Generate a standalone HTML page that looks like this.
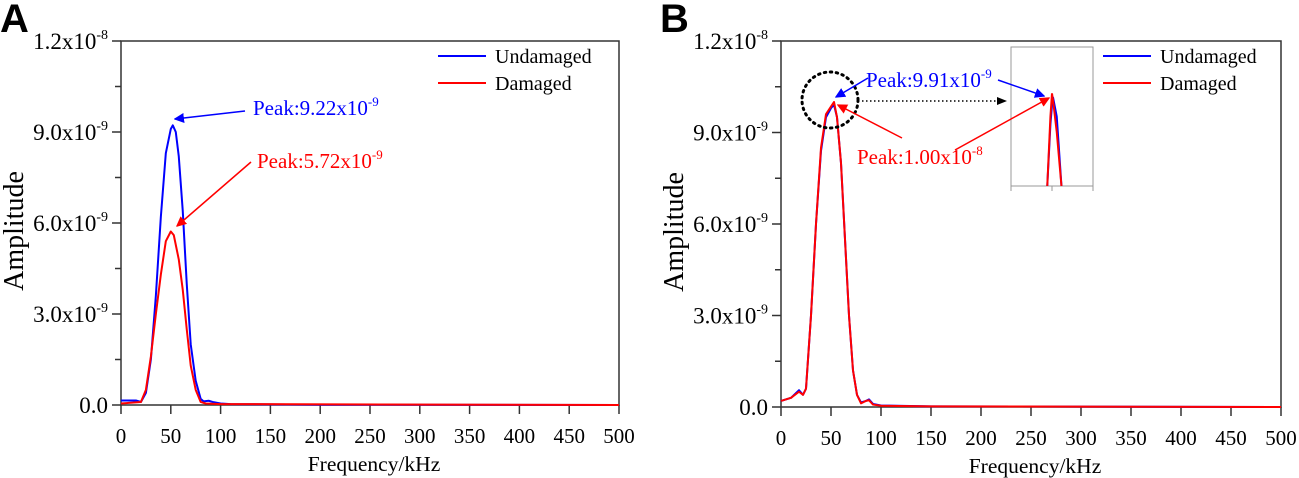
<!DOCTYPE html>
<html><head><meta charset="utf-8"><style>
body{margin:0;background:#fff}
svg{display:block;font-family:"Liberation Serif",serif}
</style></head><body>
<svg id="chart" width="1299" height="478" viewBox="0 0 1299 478" xmlns="http://www.w3.org/2000/svg">
<defs>
<marker id="ab" markerWidth="10" markerHeight="10" refX="9" refY="5" orient="auto" markerUnits="userSpaceOnUse"><path d="M0,0 L14,5 L0,10 Z" fill="#0000ff" transform="scale(0.75,1)"/></marker>
<marker id="ar" markerWidth="10" markerHeight="10" refX="9" refY="5" orient="auto" markerUnits="userSpaceOnUse"><path d="M0,0 L14,5 L0,10 Z" fill="#ff0000" transform="scale(0.75,1)"/></marker>
<marker id="ak" markerWidth="10" markerHeight="10" refX="9" refY="5" orient="auto" markerUnits="userSpaceOnUse"><path d="M0,1 L10,5 L0,9 Z" fill="#000"/></marker>
<clipPath id="insetClip"><rect x="1011" y="47" width="82" height="139"/></clipPath>
</defs>
<g id="gA"></g>
<g id="gB"></g>
</svg>
<script>
const xTicks = [0,50,100,150,200,250,300,350,400,450,500];
const yTickVals = [0,3,6,9,12];
const yTickLabels = ["0.0","3.0x10","6.0x10","9.0x10","1.2x10"];
const yTickExp = ["","-9","-9","-9","-8"];
const freqA = [0,15,20,25,30,35,40,45,50,52,55,58,62,66,70,75,80,83,88,92,100,110,150,200,500];
const undamagedA = [0.15,0.15,0.1,0.4,1.5,3.6,6.2,8.3,9.1,9.22,9.0,8.2,6.4,4.0,2.0,0.8,0.2,0.12,0.14,0.1,0.05,0.03,0.02,0.01,0];
const freqA2 = [0,20,25,30,35,40,45,50,53,58,62,66,70,75,80,85,100,500];
const damagedA = [0.05,0.1,0.5,1.6,3.0,4.3,5.4,5.72,5.6,4.8,3.8,2.5,1.3,0.5,0.1,0.05,0.03,0];
const freqB = [0,10,18,22,25,30,35,40,45,50,53,56,60,64,68,72,76,80,85,88,92,100,150,500];
const undamagedB = [0.2,0.3,0.55,0.4,0.6,3.0,6.0,8.4,9.5,9.8,9.91,9.5,8.0,5.5,3.0,1.2,0.4,0.15,0.2,0.25,0.1,0.05,0.02,0];
const damagedB = [0.2,0.3,0.5,0.4,0.6,3.0,6.0,8.5,9.6,9.85,10.0,9.5,8.0,5.5,3.0,1.2,0.4,0.12,0.2,0.22,0.08,0.04,0.02,0];
const insetFreq = [51.5,52.5,53,53.5,54.5,56];
const insetUndamaged = [8.8,9.6,9.85,9.91,9.7,8.8];
const insetDamaged = [8.8,9.7,10.0,9.85,9.5,8.8];

const NS="http://www.w3.org/2000/svg";
function el(p,tag,a,txt){const e=document.createElementNS(NS,tag);for(const k in a)e.setAttribute(k,a[k]);if(txt!==undefined)e.textContent=txt;p.appendChild(e);return e;}

function panel(g,x0,x1,y0,y1,letter,series,legX){
  const sx=v=>x0+(v/500)*(x1-x0), sy=v=>y0-(v/12)*(y0-y1);
  const lt=el(g,'text',{x:x0-121,y:32,'font-family':'Liberation Sans,sans-serif','font-weight':'bold','font-size':40},letter);
  
  
  const box=el(g,'rect',{x:x0,y:y1,width:x1-x0,height:y0-y1,fill:'none',stroke:'#333','stroke-width':1.5});
  
  
  xTicks.forEach(t=>{
    el(g,'line',{x1:sx(t),x2:sx(t),y1:y0,y2:y0+9,stroke:'#333','stroke-width':1.5});
    const tx=el(g,'text',{x:sx(t),y:y0+38,'text-anchor':'middle','font-size':21},t);
    
    
  });
  for(let v=1.5;v<12;v+=3) el(g,'line',{x1:x0-6,x2:x0,y1:sy(v),y2:sy(v),stroke:'#333','stroke-width':1.5});
  yTickVals.forEach((v,i)=>{
    el(g,'line',{x1:x0-9,x2:x0,y1:sy(v),y2:sy(v),stroke:'#333','stroke-width':1.5});
    const tx=el(g,'text',{x:x0-13,y:sy(v)+8,'text-anchor':'end','font-size':23});
    
    
    el(tx,'tspan',{},yTickLabels[i]);
    if(yTickExp[i]){el(tx,'tspan',{dy:-10,'font-size':14},yTickExp[i]);}
  });
  const xt=el(g,'text',{x:(x0+x1)/2+4,y:y0+66,'text-anchor':'middle','font-size':21.5},'Frequency/kHz');
  
  
  const yt=el(g,'text',{x:0,y:0,'text-anchor':'middle','font-size':28,transform:`translate(${x0-98},${(y0+y1)/2+8}) rotate(-90)`},'Amplitude');
  
  
  series.forEach(s=>{
    const p=el(g,'polyline',{points:s.f.map((f,i)=>sx(f)+','+sy(s.v[i])).join(' '),fill:'none',stroke:s.c,'stroke-width':2,'stroke-linejoin':'round'});
    
    
  });
  [['Undamaged','#0000ff',57],['Damaged','#ff0000',84]].forEach(([t,c,y])=>{
    el(g,'line',{x1:legX,x2:legX+48,y1:y-1,y2:y-1,stroke:c,'stroke-width':2});
    const lt2=el(g,'text',{x:legX+57,y:y+6,'font-size':20},t);
    
    
  });
  return {sx,sy};
}
const gA=document.getElementById('gA'), gB=document.getElementById('gB');
panel(gA,121,619,405,41,'A',[{f:freqA,v:undamagedA,c:'#0000ff',n:'undamaged-line'},{f:freqA2,v:damagedA,c:'#ff0000',n:'damaged-line'}],438);
panel(gB,781,1281,407,41,'B',[{f:freqB,v:undamagedB,c:'#0000ff',n:'undamaged-line'},{f:freqB,v:damagedB,c:'#ff0000',n:'damaged-line'}],1103);

function label(g,x,y,base,exp,c,name){
  const t=el(g,'text',{x:x,y:y,'font-size':21,fill:c});
  
  
  el(t,'tspan',{},base);el(t,'tspan',{dy:-9,'font-size':13},exp);
}
label(gA,253,115,'Peak:9.22x10','-9','#0000ff','peak-label-undamaged');
el(gA,'line',{x1:245,y1:111,x2:175,y2:119,stroke:'#0000ff','stroke-width':1.5,'marker-end':'url(#ab)'});
label(gA,257,168,'Peak:5.72x10','-9','#ff0000','peak-label-damaged');
el(gA,'line',{x1:251,y1:162,x2:177,y2:226,stroke:'#ff0000','stroke-width':1.5,'marker-end':'url(#ar)'});
el(gB,'circle',{cx:830,cy:100,r:28,fill:'none',stroke:'#000','stroke-width':3,'stroke-dasharray':'1.5 4.5','stroke-linecap':'round'});
el(gB,'line',{x1:862,y1:101,x2:1006,y2:101,stroke:'#000','stroke-width':1.5,'stroke-dasharray':'1.5 2.5','marker-end':'url(#ak)'});
const ins=el(gB,'g',{});


el(ins,'rect',{x:1011,y:47,width:82,height:139,fill:'#fff',stroke:'#999','stroke-width':1});
[1011,1052,1093].forEach(x=>el(ins,'line',{x1:x,x2:x,y1:186,y2:191,stroke:'#999','stroke-width':1}));
const ix=v=>1011+(v-40)/26*82, iy=v=>186-(v-8.8)/1.8*139;
const ic=el(ins,'g',{'clip-path':'url(#insetClip)'});
el(ic,'polyline',{points:insetFreq.map((f,i)=>ix(f)+','+iy(insetUndamaged[i])).join(' '),fill:'none',stroke:'#0000ff','stroke-width':2});
el(ic,'polyline',{points:insetFreq.map((f,i)=>ix(f)+','+iy(insetDamaged[i])).join(' '),fill:'none',stroke:'#ff0000','stroke-width':2});
label(gB,866,87,'Peak:9.91x10','-9','#0000ff','peak-label-undamaged');
el(gB,'line',{x1:868,y1:78,x2:836,y2:97,stroke:'#0000ff','stroke-width':1.5,'marker-end':'url(#ab)'});
el(gB,'line',{x1:998,y1:80,x2:1044,y2:96,stroke:'#0000ff','stroke-width':1.5,'marker-end':'url(#ab)'});
label(gB,857,164,'Peak:1.00x10','-8','#ff0000','peak-label-damaged');
el(gB,'line',{x1:902,y1:138,x2:838,y2:105,stroke:'#ff0000','stroke-width':1.5,'marker-end':'url(#ar)'});
el(gB,'line',{x1:955,y1:150,x2:1049,y2:98,stroke:'#ff0000','stroke-width':1.5,'marker-end':'url(#ar)'});
</script>
</body></html>
